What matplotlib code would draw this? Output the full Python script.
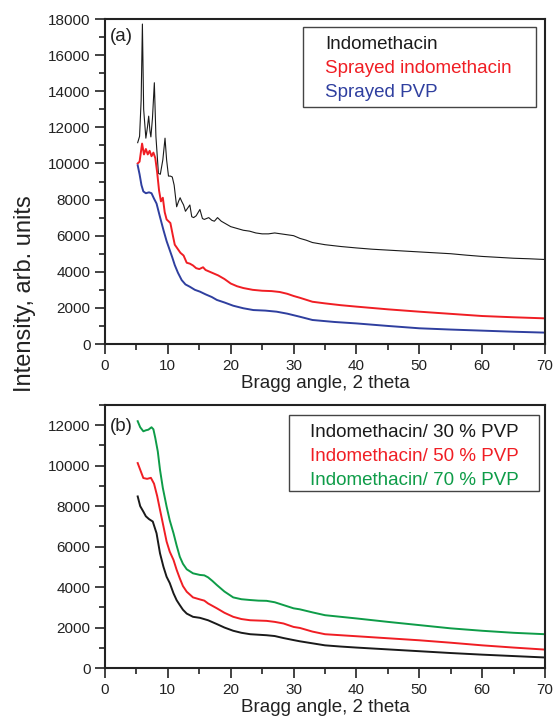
import matplotlib
matplotlib.use("Agg")
import matplotlib.pyplot as plt
from matplotlib.ticker import MultipleLocator
from matplotlib.patches import Rectangle

plt.rcParams['font.family'] = ['Liberation Sans', 'DejaVu Sans']

# ---------------- Data: panel (a) ----------------
indo_x = [5.2, 5.5, 5.75, 5.95, 6.15, 6.5, 6.75, 6.95, 7.15, 7.3, 7.55, 7.85, 8.1, 8.5, 8.8,
          9.2, 9.55, 9.8, 10.1, 10.4, 10.7, 11.0, 11.4, 11.7, 11.95, 12.2, 12.5, 12.8, 13.1,
          13.5, 13.8, 14.1, 14.5, 15.1, 15.5, 15.8, 16.5, 17.0, 17.4, 17.9, 18.5, 19.0, 20.0,
          21.0, 22.0, 23.0, 24.0, 25.0, 26.0, 27.0, 28.0, 29.0, 30.0, 31.0, 32.0, 33.0, 35,
          37.5, 40, 42.5, 45, 47.5, 50, 52.5, 55, 57.5, 60, 62.5, 65, 67.5, 70]
indo_y = [11150, 11500, 13500, 17720, 13000, 11400, 12000, 12620, 11800, 11470, 12500, 14470,
          11500, 9450, 9400, 10200, 11400, 10200, 9300, 9300, 9250, 8800, 7600, 7900, 8100,
          7900, 7700, 7350, 7500, 7700, 7050, 7000, 7100, 7450, 6950, 6900, 7000, 6850, 6800,
          7000, 6800, 6700, 6500, 6400, 6300, 6250, 6150, 6100, 6100, 6150, 6100, 6050, 6000,
          5850, 5750, 5620, 5500, 5400, 5320, 5250, 5200, 5150, 5100, 5050, 5000, 4920, 4850,
          4800, 4750, 4720, 4680]

spr_indo_x = [5.2, 5.5, 5.9, 6.2, 6.5, 6.8, 7.1, 7.4, 7.7, 8.0, 8.3, 8.6, 8.9, 9.2, 9.5, 9.8,
              10.1, 10.4, 10.8, 11.1, 11.5, 12.0, 12.5, 13.0, 13.5, 14.0, 14.5, 15.0, 15.6,
              16.0, 17.0, 18.0, 19.0, 20.0, 21.0, 22.0, 23.5, 25.0, 26.5, 27.8, 29.0, 30.0,
              31.0, 33.0, 35, 37.5, 40, 45, 50, 55, 60, 65, 70]
spr_indo_y = [10000, 10100, 11100, 10500, 10800, 10500, 10700, 10400, 10600, 10300, 9500, 8500,
              7900, 8100, 7300, 6900, 6800, 6700, 6000, 5500, 5300, 5050, 4900, 4500, 4450,
              4350, 4200, 4150, 4250, 4100, 3950, 3800, 3600, 3350, 3200, 3100, 3000, 2950,
              2930, 2880, 2780, 2660, 2560, 2340, 2250, 2150, 2070, 1920, 1790, 1670, 1550,
              1480, 1420]

spr_pvp_x = [5.2, 5.5, 5.8, 6.1, 6.5, 7.0, 7.4, 7.8, 8.2, 8.7, 9.3, 9.8, 10.3, 10.7, 11.1, 11.6,
             12.2, 12.8, 13.5, 14.3, 15.1, 16.0, 17.0, 17.8, 19.0, 20.4, 22.0, 23.6, 25.5,
             27.3, 29.0, 31.0, 33.0, 36.5, 40, 45, 50, 55, 60, 65, 70]
spr_pvp_y = [9900, 9400, 8800, 8450, 8350, 8400, 8350, 8050, 7780, 7100, 6310, 5700, 5200, 4800,
             4370, 3950, 3540, 3300, 3170, 3000, 2900, 2750, 2600, 2440, 2300, 2120, 1980,
             1880, 1850, 1790, 1680, 1510, 1330, 1220, 1140, 1000, 870, 800, 740, 680, 630]

# ---------------- Data: panel (b) ----------------
p70_x = [5.2, 5.6, 6.1, 6.5, 6.9, 7.4, 7.7, 8.0, 8.4, 8.75, 9.2, 9.8, 10.3, 10.9, 11.4, 11.9,
         12.4, 13.0, 14.0, 15.1, 15.8, 16.4, 17.1, 17.8, 19.0, 20.4, 21.7, 23.1, 24.4, 25.7,
         27.0, 28.4, 30.0, 31.0, 33.0, 35.0, 37.5, 40, 45, 50, 55, 60, 65, 70]
p70_y = [12200, 11900, 11700, 11750, 11780, 11900, 11800, 11370, 10700, 9800, 8900, 7980, 7300,
         6660, 6050, 5500, 5150, 4880, 4680, 4600, 4580, 4480, 4300, 4100, 3780, 3490, 3400,
         3360, 3330, 3320, 3250, 3110, 2950, 2900, 2750, 2610, 2530, 2450, 2280, 2120, 1960,
         1840, 1740, 1670]

p50_x = [5.2, 5.6, 6.1, 6.7, 7.3, 7.8, 8.3, 8.75, 9.3, 9.8, 10.3, 10.9, 11.4, 11.9, 12.4, 13.0,
         14.0, 15.1, 15.8, 16.4, 17.8, 19.0, 20.4, 21.7, 23.1, 25.7, 27.0, 28.4, 30.0, 31.0,
         33.0, 35, 37.5, 40, 45, 50, 55, 60, 65, 70]
p50_y = [10130, 9800, 9390, 9350, 9400, 9110, 8500, 7820, 7000, 6250, 5750, 5340, 4850, 4430,
         4050, 3770, 3490, 3390, 3330, 3190, 2950, 2730, 2530, 2420, 2360, 2330, 2280, 2200,
         2030, 1980, 1800, 1670, 1620, 1570, 1470, 1370, 1250, 1120, 1010, 910]

p30_x = [5.2, 5.6, 6.1, 6.5, 7.0, 7.6, 8.2, 8.75, 9.3, 9.8, 10.3, 10.9, 11.4, 11.9, 12.4, 13.0,
         14.0, 15.1, 16.4, 17.8, 19.0, 20.4, 21.7, 23.1, 25.7, 27.0, 28.4, 30.0, 31.0, 33.0,
         35, 37.5, 40, 45, 50, 55, 60, 65, 70]
p30_y = [8480, 8000, 7730, 7500, 7360, 7240, 6660, 5670, 5000, 4510, 4200, 3690, 3350, 3110,
         2880, 2690, 2530, 2480, 2360, 2170, 2000, 1840, 1740, 1670, 1620, 1580, 1480, 1380,
         1320, 1220, 1120, 1060, 1010, 920, 830, 740, 660, 590, 520]

labels_a = ["Indomethacin", "Sprayed indomethacin", "Sprayed PVP"]
labels_b = ["Indomethacin/ 30 % PVP", "Indomethacin/ 50 % PVP", "Indomethacin/ 70 % PVP"]

BLACK = '#1a1a1a'
RED = '#f01e24'
BLUE = '#2f3f9f'
GREEN = '#0e9c48'

W, H = 555, 722
fig = plt.figure(figsize=(W / 100, H / 100), dpi=100)
ax1 = fig.add_axes([105/W, 1-344/H, 440/W, 325/H])
ax2 = fig.add_axes([105/W, 1-668/H, 440/W, 263/H])


def style(ax, ymax):
    ax.set_xlim(0, 70)
    ax.set_ylim(0, ymax)
    ax.xaxis.set_major_locator(MultipleLocator(10))
    ax.xaxis.set_minor_locator(MultipleLocator(5))
    ax.yaxis.set_major_locator(MultipleLocator(2000))
    ax.yaxis.set_minor_locator(MultipleLocator(1000))
    ax.tick_params(which='both', direction='out', top=False, right=False,
                   width=1.2, color='#222222', labelsize=11, labelcolor='#222222')
    ax.tick_params(which='major', length=7)
    ax.tick_params(which='minor', length=4)
    for s in ax.spines.values():
        s.set_linewidth(1.5)
        s.set_color('#222222')
    ax.set_xlabel("Bragg angle, 2 theta", fontsize=13.5, color='#222222', labelpad=2)


style(ax1, 18000)
style(ax2, 13000)

l1, = ax1.plot(indo_x, indo_y, color=BLACK, lw=0.8)
l2, = ax1.plot(spr_indo_x, spr_indo_y, color=RED, lw=1.4)
l3, = ax1.plot(spr_pvp_x, spr_pvp_y, color=BLUE, lw=1.4)

m1, = ax2.plot(p30_x, p30_y, color=BLACK, lw=1.4)
m2, = ax2.plot(p50_x, p50_y, color=RED, lw=1.4)
m3, = ax2.plot(p70_x, p70_y, color=GREEN, lw=1.4)


def text_legend(ax, handles, labels, colors, anchor, box):
    leg = ax.legend(handles, labels, loc='upper left', bbox_to_anchor=anchor,
                    handlelength=0, handletextpad=0, fontsize=13.5, frameon=False,
                    borderpad=0, labelspacing=0.37, borderaxespad=0)
    for h in leg.legend_handles:
        h.set_visible(False)
    for t, c in zip(leg.get_texts(), colors):
        t.set_color(c)
    x0, y0, x1, y1 = box
    fig.add_artist(Rectangle((x0 / W, 1 - y1 / H), (x1 - x0) / W, (y1 - y0) / H,
                             transform=fig.transFigure, fill=False,
                             edgecolor='#444444', linewidth=1.0))
    return leg


text_legend(ax1, [l1, l2, l3], labels_a, [BLACK, RED, BLUE],
            ((325 - 105) / 440, (344 - 36) / 325), (303, 27, 536, 107))
text_legend(ax2, [m1, m2, m3], labels_b, [BLACK, RED, GREEN],
            ((310 - 105) / 440, (668 - 424) / 263), (289, 415, 539, 491))

ax1.text(0.012, 0.972, "(a)", transform=ax1.transAxes, fontsize=13.5, va='top', ha='left',
         color='#222222')
ax2.text(0.012, 0.952, "(b)", transform=ax2.transAxes, fontsize=13.5, va='top', ha='left',
         color='#222222')

fig.text(25/W, 1-294/H, "Intensity, arb. units", rotation=90, fontsize=17,
         va='center', ha='center', color='#222222')

fig.savefig("out.png", dpi=100)
